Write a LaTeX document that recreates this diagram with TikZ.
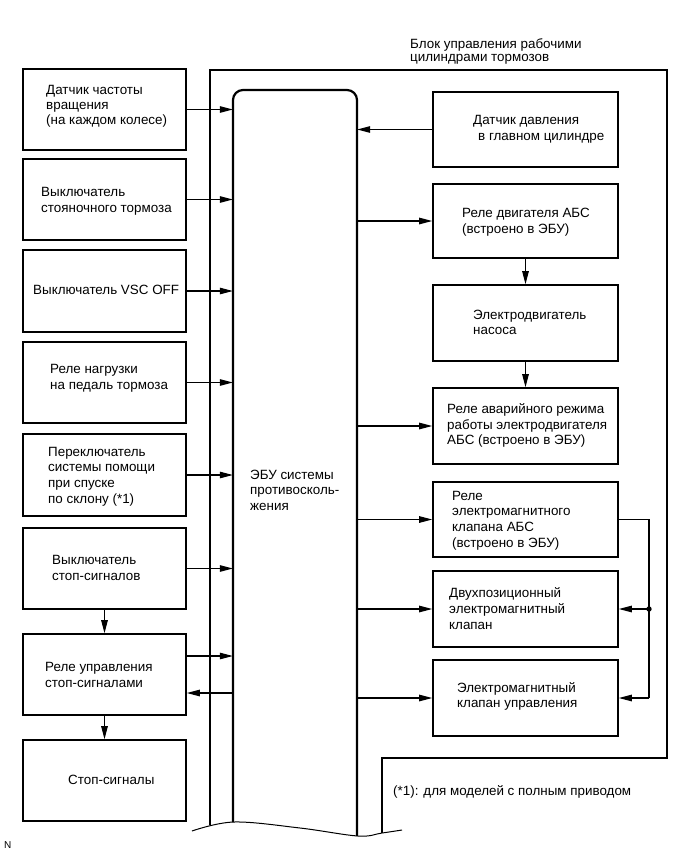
\documentclass[tikz,border=0pt]{standalone}
\usepackage{fontspec}
\setmainfont{Liberation Sans}
\usetikzlibrary{arrows.meta}
\begin{document}
\begin{tikzpicture}[x=1pt,y=-1pt,
  box/.style={draw, line width=1.6pt, minimum width=163pt, minimum height=81pt, inner sep=0pt},
  rbox/.style={draw, line width=1.6pt, minimum width=185pt, minimum height=75pt, inner sep=0pt},
  txt/.style={align=left, inner sep=0pt, anchor=west, font=\fontsize{13.4}{15.6}\selectfont},
  arr/.style={-{Triangle[length=13pt,width=6.5pt]}, line width=1.1pt},
  frame/.style={line width=1.8pt}]
\fill[white] (0,0) rectangle (690,855);
\useasboundingbox (0,0) rectangle (690,855);

% outer frame and ECU
\draw[frame] (210,825) -- (210,70) -- (667,70) -- (667,758) -- (382,758) -- (382,833);
\draw[line width=2.2pt, rounded corners=10pt] (233,822) -- (233,90) -- (357,90) -- (357,836);
\draw[line width=1pt] plot[smooth, tension=0.6] coordinates {(192,831) (234,822) (300,828) (358,836) (382,833) (402,830)};
\node[minimum width=124pt, minimum height=746pt, inner sep=0pt] (ecu) at (295,463) {};
\node[txt] (ecut) at (250,490) {ЭБУ системы\\противосколь-\\жения};

\node[txt, font=\fontsize{13.4}{13.6}\selectfont] (blk) at (410,51.5) {Блок управления рабочими\\цилиндрами тормозов};

% left boxes
\node[box] (L1) at (104.5,109.5) {};
\node[box] (L2) at (104.5,199.5) {};
\node[box, minimum height=82pt] (L3) at (104.5,291) {};
\node[box] (L4) at (104.5,382.5) {};
\node[box, minimum height=82pt] (L5) at (104.5,475) {};
\node[box] (L6) at (104.5,568.5) {};
\node[box] (L7) at (104.5,674.5) {};
\node[box] (L8) at (104.5,780.5) {};
\node[txt, font=\fontsize{13.4}{14.8}\selectfont] (L1t) at (46,106.5) {Датчик частоты\\вращения\\(на каждом колесе)};
\node[txt] (L2t) at (41,201) {Выключатель\\стояночного тормоза};
\node[txt] (L3t) at (33,290) {Выключатель VSC OFF};
\node[txt] (L4t) at (50,378.5) {Реле нагрузки\\на педаль тормоза};
\node[txt] (L5t) at (48,476.5) {Переключатель\\системы помощи\\при спуске\\по склону (*1)};
\node[txt] (L6t) at (52,568) {Выключатель\\стоп-сигналов};
\node[txt] (L7t) at (45,675) {Реле управления\\стоп-сигналами};
\node[txt] (L8t) at (68,780) {Стоп-сигналы};

% right boxes
\node[rbox] (R1) at (525.5,129.5) {};
\node[rbox, minimum height=74pt] (R2) at (525.5,221) {};
\node[rbox, minimum height=76pt] (R3) at (525.5,323) {};
\node[rbox, minimum height=76pt] (R4) at (525.5,426) {};
\node[rbox] (R5) at (525.5,519.5) {};
\node[rbox, minimum height=76pt] (R6) at (525.5,609) {};
\node[rbox, minimum height=76pt] (R7) at (525.5,698) {};
\node[txt] (R1t) at (473,129.5) {Датчик давления\\\hspace*{5pt}в главном цилиндре};
\node[txt] (R2t) at (462,222.5) {Реле двигателя АБС\\(встроено в ЭБУ)};
\node[txt] (R3t) at (473,322.5) {Электродвигатель\\насоса};
\node[txt] (R4t) at (447,425.5) {Реле аварийного режима\\работы электродвигателя\\АБС (встроено в ЭБУ)};
\node[txt] (R5t) at (452,520.5) {Реле\\электромагнитного\\клапана АБС\\(встроено в ЭБУ)};
\node[txt] (R6t) at (449,608.5) {Двухпозиционный\\электромагнитный\\клапан};
\node[txt] (R7t) at (457,696.5) {Электромагнитный\\клапан управления};

\node[txt] (note) at (393,792) {(*1): для моделей с полным приводом};
\node[inner sep=0pt, anchor=west, font=\fontsize{10}{11}\selectfont] (n) at (4,845.5) {N};

% left arrows
\foreach \b in {L1,L2,L3,L4,L5,L6}
  \draw[arr] (\b.east) -- (\b.east -| ecu.west);
\draw[arr] ([yshift=18.5pt]L7.east) -- ([yshift=18.5pt]L7.east -| ecu.west);
\draw[arr] ([yshift=-18.5pt]L7.east -| ecu.west) -- ([yshift=-18.5pt]L7.east);
\draw[arr] (L6.south) -- (L7.north);
\draw[arr] (L7.south) -- (L8.north);

% right arrows
\draw[arr] (R1.west) -- (R1.west -| ecu.east);
\foreach \b in {R2,R4,R5,R6,R7}
  \draw[arr] (\b.west -| ecu.east) -- (\b.west);
\draw[arr] (R2.south) -- (R3.north);
\draw[arr] (R3.south) -- (R4.north);

\coordinate (busT) at (649,519.5);
\coordinate (busJ) at (649,609);
\coordinate (busB) at (649,698);
\draw[line width=1.1pt] (R5.east) -- (busT) -- (busB);
\draw[arr] (busJ) -- (R6.east);
\draw[arr] (busB) -- (R7.east);
\fill (busJ) circle (2.7pt);
\end{tikzpicture}
\end{document}
